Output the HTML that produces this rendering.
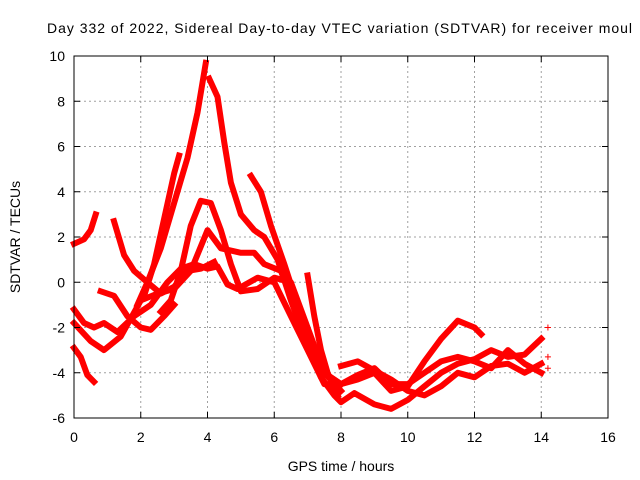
<!DOCTYPE html>
<html><head><meta charset="utf-8"><style>
body{margin:0;background:#fff}
svg{display:block;font-family:"Liberation Sans",sans-serif}
</style></head><body>
<svg id="chart" width="640" height="480" viewBox="0 0 640 480">
<rect width="640" height="480" fill="#fff"/>
<text x="47" y="33" font-size="14" fill="#000" textLength="585" lengthAdjust="spacing">Day 332 of 2022, Sidereal Day-to-day VTEC variation (SDTVAR) for receiver moul</text>
<g id="grid"></g>
<g id="series"></g>
<rect x="74" y="56" width="534" height="362" fill="none" stroke="#000" stroke-width="1"/>
<g id="ticks"></g>
<text x="341" y="471" font-size="14" text-anchor="middle">GPS time / hours</text>
<text transform="translate(20,237) rotate(-90)" font-size="14" text-anchor="middle">SDTVAR / TECUs</text>
</svg>
<script>
const xTicks=[0,2,4,6,8,10,12,14,16];
const yTicks=[-6,-4,-2,0,2,4,6,8,10];
const trackA=[[0,1.7],[0.3,1.9],[0.5,2.3],[0.65,3.0]];
const trackB=[[0,-2.9],[0.2,-3.3],[0.4,-4.1],[0.6,-4.4]];
const trackC=[[1.9,-1.0],[2.2,0.0],[2.6,1.5],[3.0,3.5],[3.4,5.5],[3.7,7.5],[3.95,9.7]];
const trackD=[[4.05,9.0],[4.3,8.2],[4.5,6.2],[4.7,4.4],[5.0,3.0],[5.4,2.3],[5.7,2.0],[6.1,1.0],[6.5,-0.8],[7.0,-2.8],[7.4,-4.2],[7.8,-5.0],[8.0,-5.3],[8.4,-4.9],[9,-5.4],[9.5,-5.6],[10,-5.2],[10.5,-4.6],[11,-4.0],[11.5,-3.6],[12,-3.4],[12.5,-3.0],[13,-3.3],[13.5,-3.2],[14,-2.5]];
const trackE=[[2.1,-0.6],[2.4,0.8],[2.7,2.8],[3.0,4.8],[3.15,5.6]];
const trackF=[[1.2,2.7],[1.5,1.2],[1.8,0.5],[2.2,0.0],[2.6,-0.5],[3.0,-0.2],[3.4,0.5],[3.8,0.6],[4.2,0.9]];
const trackG=[[2.6,-1.3],[2.9,-0.8],[3.2,0.5],[3.5,2.5],[3.8,3.6],[4.1,3.5],[4.4,2.3],[4.7,0.8],[5.0,-0.4],[5.5,-0.3],[6.0,0.2],[6.5,0.0],[7,-2.0],[7.5,-4.0],[8,-4.8]];
const trackH=[[0,-1.2],[0.3,-1.8],[0.6,-2.0],[0.9,-1.8],[1.3,-2.2],[1.8,-1.5],[2.3,-1.0],[2.8,0.0],[3.2,0.6],[3.6,0.8],[4.0,0.6],[4.3,0.7],[4.6,-0.1],[4.9,-0.3],[5.5,0.2],[6,0.0],[6.5,-1.5],[7.0,-3.0],[7.5,-4.5],[8,-4.5],[8.5,-4.1],[9,-3.8],[9.5,-4.5],[10,-4.5],[10.5,-4.0],[11,-3.5],[11.5,-3.3],[12,-3.5],[12.5,-3.8],[13,-3.0],[13.5,-3.6],[14,-4.0]];
const trackI=[[0,-1.8],[0.5,-2.6],[0.9,-3.0],[1.4,-2.4],[2.0,-0.8],[2.5,-0.5],[3,-0.3],[3.5,0.5],[4,2.3],[4.4,1.5],[5,1.3],[5.4,1.3],[5.7,0.8],[6.2,0.5],[6.6,-1],[7,-2.5],[7.5,-4.0],[8,-4.5],[8.5,-4.3],[9,-4.0],[9.5,-4.8],[10,-4.6],[10.5,-3.5],[11,-2.5],[11.5,-1.7],[12,-2.0],[12.2,-2.3]];
const trackJ=[[0.8,-0.4],[1.2,-0.6],[1.6,-1.5],[2.0,-2.0],[2.3,-2.1],[2.7,-1.5],[3.0,-1.0]];
const trackK=[[5.3,4.7],[5.6,4.0],[5.9,2.5],[6.3,0.8],[6.7,-1.0],[7.1,-2.8],[7.5,-4.0],[8,-4.5]];
const trackL=[[7.0,0.3],[7.2,-1.5],[7.4,-3.0],[7.6,-4.0],[7.9,-5.0]];
const trackM=[[8,-3.7],[8.5,-3.5],[9,-3.9],[9.5,-4.3],[10,-4.8],[10.5,-5.0],[11,-4.6],[11.5,-4.0],[12,-4.2],[12.5,-3.7],[13,-3.6],[13.5,-4.0],[14,-3.6]];
const lonePoints=[[14.2,-2.0],[14.2,-3.3],[14.2,-3.8]];
const tracks=[trackA,trackB,trackC,trackD,trackE,trackF,trackG,trackH,trackI,trackJ,trackK,trackL,trackM];

const NS="http://www.w3.org/2000/svg";
const X0=74,X1=608,Y0=418,Y1=56;
const sx=v=>X0+(v-0)/(16-0)*(X1-X0);
const sy=v=>Y0-(v+6)/(10+6)*(Y0-Y1);
function mk(tag,attrs,parent){const e=document.createElementNS(NS,tag);for(const k in attrs)e.setAttribute(k,attrs[k]);parent.appendChild(e);return e;}
const grid=document.getElementById('grid'),ticks=document.getElementById('ticks'),ser=document.getElementById('series');
xTicks.forEach(t=>{
  const x=sx(t);
  if(t>0&&t<16){const l=mk('line',{x1:x,x2:x,y1:Y1,y2:Y0,stroke:'#a0a0a0','stroke-dasharray':'2,3'},grid);
  
  }
  mk('line',{x1:x,x2:x,y1:Y0,y2:Y0-6,stroke:'#000'},ticks);
  mk('line',{x1:x,x2:x,y1:Y1,y2:Y1+6,stroke:'#000'},ticks);
  const tx=mk('text',{x:x,y:Y0+24,'font-size':'14','text-anchor':'middle'},ticks);
  tx.textContent=t;
  
  
});
yTicks.forEach(t=>{
  const y=sy(t);
  if(t>-6&&t<10){const l=mk('line',{x1:X0,x2:X1,y1:y,y2:y,stroke:'#a0a0a0','stroke-dasharray':'2,3'},grid);
  
  }
  mk('line',{x1:X0,x2:X0+6,y1:y,y2:y,stroke:'#000'},ticks);
  mk('line',{x1:X1,x2:X1-6,y1:y,y2:y,stroke:'#000'},ticks);
  const tx=mk('text',{x:X0-9,y:y+5,'font-size':'14','text-anchor':'end'},ticks);
  tx.textContent=t;
  
  
});
tracks.forEach((tr,i)=>{
  const d=tr.map((p,j)=>(j?'L':'M')+sx(p[0]).toFixed(1)+','+sy(p[1]).toFixed(1)).join(' ');
  const p=mk('path',{d:d,fill:'none',stroke:'#ff0000','stroke-width':'6','stroke-linejoin':'round','stroke-linecap':'square'},ser);
  
  
});
lonePoints.forEach(pt=>{
  const x=sx(pt[0]),y=sy(pt[1]);
  const p=mk('path',{d:`M${x-3},${y}H${x+3}M${x},${y-3}V${y+3}`,stroke:'#ff0000','stroke-width':'1'},ser);
  
  
});
</script>
</body></html>
